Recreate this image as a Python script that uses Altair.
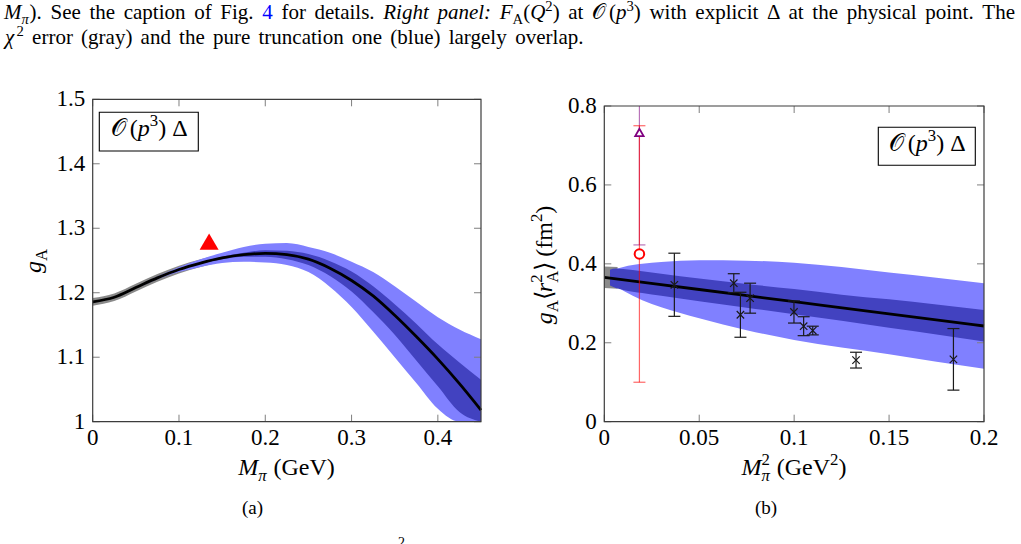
import altair as alt
import pandas as pd

SERIF = "Liberation Serif"
INK = "#000000"
LINK = "#0000ff"
FRAME = "#3c3c3c"
TICK = "#7f7f7f"
WIDE = "#8080ff"
NARROW = "#4242c0"
CHI = "#8a8a8a"

# ---------------- left panel: g_A against M_pi (GeV) ----------------
mpi = [0.0, 0.025, 0.05, 0.075, 0.1, 0.125, 0.15, 0.175, 0.2, 0.225,
       0.25, 0.275, 0.3, 0.325, 0.35, 0.375, 0.4, 0.425, 0.45]
ga_fit = [1.186, 1.193, 1.208, 1.223, 1.236, 1.246, 1.254, 1.259, 1.261, 1.259,
          1.252, 1.238, 1.219, 1.195, 1.165, 1.132, 1.097, 1.059, 1.018]
ga_wide_hi = [1.186, 1.193, 1.209, 1.225, 1.240, 1.252, 1.262, 1.271, 1.276, 1.277,
              1.271, 1.262, 1.248, 1.232, 1.210, 1.186, 1.162, 1.143, 1.128]
ga_wide_lo = [1.186, 1.193, 1.207, 1.221, 1.232, 1.240, 1.246, 1.248, 1.247, 1.243,
              1.232, 1.209, 1.178, 1.140, 1.100, 1.060, 1.020, 0.980, 0.940]
ga_narrow_hi = [1.186, 1.193, 1.208, 1.223, 1.237, 1.247, 1.256, 1.262, 1.266, 1.265,
                1.260, 1.249, 1.233, 1.210, 1.182, 1.152, 1.120, 1.092, 1.065]
ga_narrow_lo = [1.186, 1.193, 1.208, 1.223, 1.235, 1.245, 1.252, 1.256, 1.256, 1.252,
                1.243, 1.226, 1.202, 1.170, 1.135, 1.095, 1.055, 1.015, 0.975]
chi_mpi = [0.0, 0.025, 0.05, 0.075, 0.1, 0.125, 0.15]
ga_chi_hi = [1.192, 1.199, 1.214, 1.229, 1.242, 1.252, 1.260]
ga_chi_lo = [1.180, 1.187, 1.202, 1.217, 1.230, 1.240, 1.248]
phys_mpi = [0.1349]
phys_ga = [1.2754]

l_xticks = [0.0, 0.1, 0.2, 0.3, 0.4]
l_xlabels = ["0", "0.1", "0.2", "0.3", "0.4"]
l_yticks = [1.0, 1.1, 1.2, 1.3, 1.4, 1.5]
l_ylabels = ["1", "1.1", "1.2", "1.3", "1.4", "1.5"]

# ---------------- right panel: g_A <r_A^2> against M_pi^2 ----------------
m2_fit = [0.0, 0.05, 0.1, 0.15, 0.2]
r2_fit = [0.366, 0.335, 0.304, 0.273, 0.2425]
m2_band = [0.003, 0.006, 0.01, 0.02, 0.03, 0.05, 0.075, 0.1, 0.125, 0.15, 0.175, 0.2]
r2_wide_hi = [0.375, 0.386, 0.392, 0.400, 0.405, 0.409, 0.408, 0.403, 0.392, 0.378, 0.365, 0.351]
r2_wide_lo = [0.355, 0.343, 0.332, 0.308, 0.290, 0.262, 0.232, 0.207, 0.188, 0.171, 0.152, 0.134]
r2_narrow_hi = [0.385, 0.388, 0.387, 0.381, 0.375, 0.363, 0.349, 0.336, 0.322, 0.310, 0.297, 0.283]
r2_narrow_lo = [0.345, 0.339, 0.334, 0.326, 0.319, 0.305, 0.289, 0.272, 0.256, 0.238, 0.221, 0.203]
m2_chi = [0.0, 0.007]
r2_chi_hi = [0.393, 0.392]
r2_chi_lo = [0.339, 0.337]

lat_m2 = [0.0369, 0.0682, 0.0717, 0.0768, 0.0999, 0.1050, 0.1098, 0.1326, 0.1839]
lat_r2 = [0.347, 0.351, 0.271, 0.313, 0.278, 0.242, 0.231, 0.156, 0.158]
lat_err = [0.080, 0.024, 0.057, 0.038, 0.028, 0.024, 0.011, 0.020, 0.078]

exp_m2 = [0.0185]
exp_r2 = [0.425]
exp_err = [0.325]
alt_m2 = [0.0185]
alt_r2 = [0.730]
alt_err = [0.282]

r_xticks = [0.0, 0.05, 0.1, 0.15, 0.2]
r_xlabels = ["0", "0.05", "0.1", "0.15", "0.2"]
r_yticks = [0.0, 0.2, 0.4, 0.6, 0.8]
r_ylabels = ["0", "0.2", "0.4", "0.6", "0.8"]

# ---------------- page geometry (pixels) ----------------
LX, LY = (92.7, 481.0), (421.7, 99.3)
RX, RY = (604.3, 984.0), (421.7, 106.0)
TICK_LEN = 7

xs_l = alt.Scale(domain=[0, 0.45], range=list(LX), nice=False, zero=False, clamp=True)
ys_l = alt.Scale(domain=[1.0, 1.5], range=list(LY), nice=False, zero=False, clamp=True)
xs_r = alt.Scale(domain=[0, 0.2], range=list(RX), nice=False, zero=False, clamp=True)
ys_r = alt.Scale(domain=[0, 0.8], range=list(RY), nice=False, zero=False, clamp=True)

ONE = pd.DataFrame({"k": [0]})

# ---------------- text helpers (Times metrics, per 1000 em) ----------------
RM = {" ": 250, "(": 333, ")": 333, ".": 250, ",": 250, ":": 278,
      "A": 722, "F": 556, "G": 722, "M": 889, "O": 722, "Q": 722, "R": 667,
      "S": 556, "T": 611, "V": 722,
      "a": 444, "b": 500, "c": 444, "d": 500, "e": 444, "f": 333, "g": 500,
      "h": 500, "i": 278, "j": 278, "k": 500, "l": 278, "m": 778, "n": 500,
      "o": 500, "p": 500, "q": 500, "r": 333, "s": 389, "t": 278, "u": 500,
      "v": 500, "w": 722, "x": 500, "y": 500, "z": 444,
      "π": 549, "Δ": 612, "χ": 549, "⟨": 333, "⟩": 333, "𝒪": 800}
for d in "0123456789":
    RM[d] = 500
IT = {" ": 250, ":": 333, "A": 611, "F": 611, "M": 833, "Q": 722, "R": 611,
      "a": 500, "e": 444, "g": 500, "h": 500, "i": 278, "l": 278, "n": 500,
      "p": 500, "r": 389, "t": 278, "χ": 549, "π": 549}


def text_w(t, size, italic):
    table = IT if italic else RM
    return sum(table.get(c, RM.get(c, 500)) for c in t) * size / 1000.0


def piece(t, x, y, size, italic=False, color=INK, angle=0, align="left", baseline="alphabetic"):
    return alt.Chart(ONE).mark_text(
        text=t, font=SERIF, fontSize=size, fontStyle="italic" if italic else "normal",
        color=color, align=align, baseline=baseline, angle=angle,
    ).encode(x=alt.value(x), y=alt.value(y))


def _style(st, size):
    small = st.startswith("sub") or st.startswith("sup")
    s = size * 0.7 if small else size
    shift = 0.0
    if st.startswith("sub"):
        shift = 0.26 * size
    elif st.startswith("sup"):
        shift = -0.40 * size
    italic = st in ("it", "subit", "supit")
    color = LINK if st == "blue" else INK
    return s, shift, italic, color


def measure(tokens, size):
    pos, held = 0.0, None
    for t, st in tokens:
        s, _, it, _ = _style(st, size)
        w = text_w(t, s, it)
        if st.endswith("hold"):
            held = w
            continue
        if held is not None:
            w, held = max(w, held), None
        pos += w
    return pos


def place(tokens, x0, y0, size, angle=0):
    out, pos, held = [], 0.0, None
    for t, st in tokens:
        s, shift, it, col = _style(st, size)
        body = t.lstrip(" ")
        off = pos + (len(t) - len(body)) * text_w(" ", s, it)
        if angle == 0:
            x, y = x0 + off, y0 + shift
        else:
            x, y = x0 + shift, y0 - off
        out.append(piece(body, x, y, s, it, col, angle))
        w = text_w(t, s, it)
        if st.endswith("hold"):
            held = w
            continue
        if held is not None:
            w, held = max(w, held), None
        pos += w
    return out


def words_line(words, x0, y0, size, x1=None, gap=6.0):
    words = [[(w, "rm")] if isinstance(w, str) else w for w in words]
    widths = [measure(w, size) for w in words]
    if x1 is not None:
        gap = (x1 - x0 - sum(widths)) / (len(words) - 1)
    out, x = [], x0
    for w, wd in zip(words, widths):
        out += place(w, x, y0, size)
        x += wd + gap
    return out


def centered(tokens, cx, y, size):
    return place(tokens, cx - measure(tokens, size) / 2, y, size)


def centered_vertical(tokens, x_base, cy, size):
    return place(tokens, x_base, cy + measure(tokens, size) / 2, size, angle=270)


# ---------------- mark builders ----------------
def band(xv, lo, hi, xs, ys, color):
    df = pd.DataFrame({"x": xv, "lo": lo, "hi": hi})
    return alt.Chart(df).mark_area(color=color, opacity=1, interpolate="monotone").encode(
        x=alt.X("x:Q", scale=xs, axis=None),
        y=alt.Y("lo:Q", scale=ys, axis=None),
        y2="hi:Q",
    )


def curve(xv, yv, xs, ys):
    df = pd.DataFrame({"x": xv, "y": yv})
    return alt.Chart(df).mark_line(color=INK, strokeWidth=2.8, interpolate="monotone").encode(
        x=alt.X("x:Q", scale=xs, axis=None),
        y=alt.Y("y:Q", scale=ys, axis=None),
    )


def frame(px, py, xs, ys, xt, xl, yt, yl):
    xdf = pd.DataFrame({"v": xt, "lab": xl})
    ydf = pd.DataFrame({"v": yt, "lab": yl})
    xenc = alt.X("v:Q", scale=xs, axis=None)
    yenc = alt.Y("v:Q", scale=ys, axis=None)
    box = alt.Chart(ONE).mark_rect(fillOpacity=0, stroke=FRAME, strokeWidth=1.2).encode(
        x=alt.value(px[0]), x2=alt.value(px[1]), y=alt.value(py[1]), y2=alt.value(py[0]))
    tb = alt.Chart(xdf).mark_rule(color=TICK, strokeWidth=1).encode(
        x=xenc, y=alt.value(py[0]), y2=alt.value(py[0] - TICK_LEN))
    tt = alt.Chart(xdf).mark_rule(color=TICK, strokeWidth=1).encode(
        x=xenc, y=alt.value(py[1]), y2=alt.value(py[1] + TICK_LEN))
    tl = alt.Chart(ydf).mark_rule(color=TICK, strokeWidth=1).encode(
        y=yenc, x=alt.value(px[0]), x2=alt.value(px[0] + TICK_LEN))
    tr = alt.Chart(ydf).mark_rule(color=TICK, strokeWidth=1).encode(
        y=yenc, x=alt.value(px[1]), x2=alt.value(px[1] - TICK_LEN))
    lx = alt.Chart(xdf).mark_text(font=SERIF, fontSize=23, align="center", baseline="alphabetic",
                                  color=INK).encode(x=xenc, y=alt.value(py[0] + 23.5), text="lab:N")
    ly = alt.Chart(ydf).mark_text(font=SERIF, fontSize=23, align="right", baseline="middle",
                                  color=INK).encode(y=yenc, x=alt.value(px[0] - 7.5), text="lab:N")
    return [tb, tt, tl, tr, box, lx, ly]


def label_box(x0, y0, x1, y1):
    box = alt.Chart(ONE).mark_rect(fill="white", stroke=INK, strokeWidth=1.1).encode(
        x=alt.value(x0), x2=alt.value(x1), y=alt.value(y0), y2=alt.value(y1))
    toks = [("𝒪", "rm"), ("(", "rm"), ("p", "it"), ("3", "sup"), (")", "rm"), (" Δ", "rm")]
    return [box] + centered(toks, (x0 + x1) / 2, y0 + 23.5, 24)


# ---------------- left panel ----------------
phys = pd.DataFrame({"x": phys_mpi, "y": phys_ga})
left = alt.layer(
    band(chi_mpi, ga_chi_lo, ga_chi_hi, xs_l, ys_l, CHI),
    band(mpi, ga_wide_lo, ga_wide_hi, xs_l, ys_l, WIDE),
    band(mpi, ga_narrow_lo, ga_narrow_hi, xs_l, ys_l, NARROW),
    curve(mpi, ga_fit, xs_l, ys_l),
    alt.Chart(phys).mark_point(shape="triangle-up", size=361, filled=True, color="#ff0000",
                               opacity=1, yOffset=-2.5).encode(
        x=alt.X("x:Q", scale=xs_l, axis=None), y=alt.Y("y:Q", scale=ys_l, axis=None)),
    *frame(LX, LY, xs_l, ys_l, l_xticks, l_xlabels, l_yticks, l_ylabels),
    *label_box(99.3, 112.3, 198.3, 151.0),
)

# ---------------- right panel ----------------
lat = pd.DataFrame({"x": lat_m2, "y": lat_r2,
                    "lo": [v - e for v, e in zip(lat_r2, lat_err)],
                    "hi": [v + e for v, e in zip(lat_r2, lat_err)]})
ex = pd.DataFrame({"x": exp_m2, "y": exp_r2,
                   "lo": [v - e for v, e in zip(exp_r2, exp_err)],
                   "hi": [v + e for v, e in zip(exp_r2, exp_err)]})
ax = pd.DataFrame({"x": alt_m2, "y": alt_r2,
                   "lo": [v - e for v, e in zip(alt_r2, alt_err)],
                   "hi": [v + e for v, e in zip(alt_r2, alt_err)]})
rX = alt.X("x:Q", scale=xs_r, axis=None)


def rY(f):
    return alt.Y(f + ":Q", scale=ys_r, axis=None)


def errbar(df, color, opacity, caps=("lo", "hi"), width=1.2):
    out = [alt.Chart(df).mark_rule(color=color, opacity=opacity, strokeWidth=width).encode(
        x=rX, y=rY("lo"), y2="hi:Q")]
    for c in caps:
        out.append(alt.Chart(df).mark_tick(orient="horizontal", size=12, thickness=width,
                                           color=color, opacity=opacity).encode(x=rX, y=rY(c)))
    return out


CROSS = "M-1,-1L1,1M-1,1L1,-1"
right = alt.layer(
    band(m2_chi, r2_chi_lo, r2_chi_hi, xs_r, ys_r, CHI),
    band(m2_band, r2_wide_lo, r2_wide_hi, xs_r, ys_r, WIDE),
    band(m2_band, r2_narrow_lo, r2_narrow_hi, xs_r, ys_r, NARROW),
    curve(m2_fit, r2_fit, xs_r, ys_r),
    *errbar(lat, "#1a1a1a", 1.0),
    alt.Chart(lat).mark_point(shape=CROSS, size=55, filled=False, color="#1a1a1a",
                              strokeWidth=1.2, opacity=1).encode(x=rX, y=rY("y")),
    *errbar(ax, "#800080", 0.55, caps=("lo",)),
    *errbar(ex, "#ff0000", 0.6),
    alt.Chart(ax).mark_point(shape="triangle-up", size=70, fill="white", fillOpacity=1,
                             stroke="#800080", strokeWidth=1.8, opacity=1, yOffset=-1.2).encode(
        x=rX, y=rY("y")),
    alt.Chart(ex).mark_point(shape="circle", size=90, fill="white", fillOpacity=1,
                             stroke="#ff0000", strokeWidth=2, opacity=1).encode(x=rX, y=rY("y")),
    *frame(RX, RY, xs_r, ys_r, r_xticks, r_xlabels, r_yticks, r_ylabels),
    *label_box(878.3, 127.3, 975.3, 165.3),
)

# ---------------- axis titles ----------------
titles = []
titles += centered([("M", "it"), ("π", "subit"), (" (GeV)", "rm")], 286.5, 475, 24)
titles += centered([("M", "it"), ("2", "suphold"), ("π", "subit"), (" (GeV", "rm"),
                    ("2", "sup"), (")", "rm")], 794, 475, 24)
titles += centered_vertical([("g", "it"), ("A", "sub")], 41, 261, 24)
titles += centered_vertical([("g", "it"), ("A", "sub"), ("⟨", "rm"), ("r", "it"),
                             ("2", "suphold"), ("A", "sub"), ("⟩", "rm"), (" (fm", "rm"),
                             ("2", "sup"), (")", "rm")], 552, 265, 24)

# ---------------- caption text ----------------
line1 = [
    [("M", "it"), ("π", "subit"), (").", "rm")],
    "See", "the", "caption", "of", "Fig.", [("4", "blue")], "for", "details.",
    [("Right", "it")], [("panel:", "it")],
    [("F", "it"), ("A", "sub"), ("(", "rm"), ("Q", "it"), ("2", "sup"), (")", "rm")],
    "at",
    [("𝒪", "rm"), ("(", "rm"), ("p", "it"), ("3", "sup"), (")", "rm")],
    "with", "explicit", "Δ", "at", "the", "physical", "point.", "The",
]
line2 = [
    [("χ", "it"), ("2", "sup")],
    "error", "(gray)", "and", "the", "pure", "truncation", "one", "(blue)", "largely", "overlap.",
]
caption = words_line(line1, 4, 19, 21, x1=1015) + words_line(line2, 5, 44, 21, gap=8.2)

subcaps = [
    piece("(a)", 252.5, 513.5, 19, align="center"),
    piece("(b)", 766.0, 513.5, 19, align="center"),
    piece("2", 398.0, 547.0, 14),
]

chart = alt.layer(left, right, *titles, *caption, *subcaps).resolve_scale(
    x="independent", y="independent"
).properties(
    width=1021, height=544, padding=0, background="white",
    autosize=alt.AutoSizeParams(type="none"),
).configure_view(stroke=None)

chart.save("out.html", embed_options={"renderer": "svg", "actions": False})
